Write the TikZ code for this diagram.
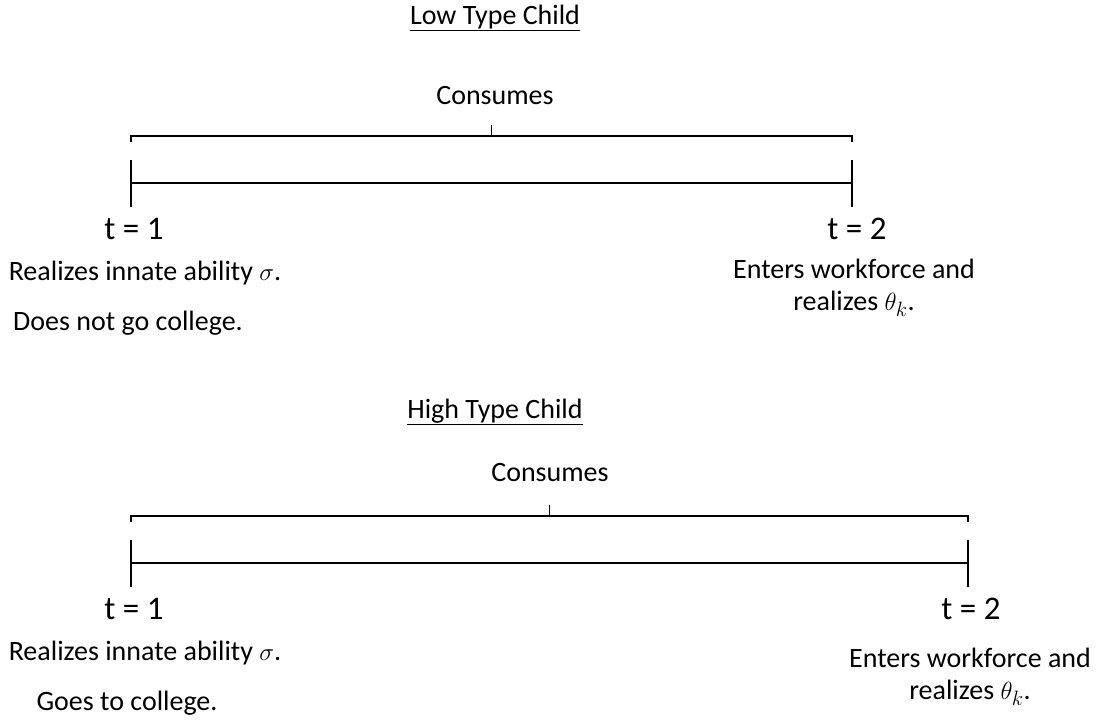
\documentclass[tikz,border=0pt]{standalone}
\usepackage{fontspec}
\setmainfont{Carlito}
\usetikzlibrary{
  calc,
  positioning,
}

\begin{document}
\begin{tikzpicture}[x=1pt,y=-1pt,
  font=\fontsize{28}{32}\selectfont,
  line width=1.2pt,
  txt/.style={inner sep=0pt,outer sep=0pt},
  time/.style={inner sep=0pt,outer sep=0pt,font=\fontsize{33}{38}\selectfont},
  note/.style={inner sep=0pt,outer sep=0pt,align=center}]
  \useasboundingbox (0,0) rectangle (1106,724);
  %% low type child
  \node[txt](Ltitle) at (495,18) {\underline{Low Type Child}};
  \node[txt](Lcons) at (495,96) {Consumes};
  \coordinate(LA) at (131,183);
  \coordinate(LB) at (852,183);
  \draw (LA) -- (LB);
  \draw ($(LA)+(0,-23)$) -- ($(LA)+(0,24)$);
  \draw ($(LB)+(0,-23)$) -- ($(LB)+(0,24)$);
  \draw ($(LA)+(0,-41)$) -- ($(LA)+(0,-47)$)
    -- ($(LB)+(0,-47)$) -- ($(LB)+(0,-41)$);
  \draw ($(LA)!.5!(LB)+(0,-47)$) -- ++(0,-11);
  \node[time](Lt1) at (134,229) {t = 1};
  \node[time](Lt2) at (857,229) {t = 2};
  \node[txt](Lreal) at (145,273) {Realizes innate ability $\sigma$.};
  \node[txt](Lcoll) at (128,323) {Does not go college.};
  \node[note](Lwork) at (854,288) {Enters workforce and\\realizes $\theta_k$.};
  %% high type child
  \node[txt](Htitle) at (495,412) {\underline{High Type Child}};
  \node[txt](Hcons) at (550,473) {Consumes};
  \coordinate(HA) at (131,563);
  \coordinate(HB) at (968,563);
  \draw (HA) -- (HB);
  \draw ($(HA)+(0,-23)$) -- ($(HA)+(0,24)$);
  \draw ($(HB)+(0,-23)$) -- ($(HB)+(0,24)$);
  \draw ($(HA)+(0,-41)$) -- ($(HA)+(0,-47)$)
    -- ($(HB)+(0,-47)$) -- ($(HB)+(0,-41)$);
  \draw ($(HA)!.5!(HB)+(0,-47)$) -- ++(0,-11);
  \node[time](Ht1) at (134,609) {t = 1};
  \node[time](Ht2) at (971,609) {t = 2};
  \node[txt](Hreal) at (145,653) {Realizes innate ability $\sigma$.};
  \node[txt](Hcoll) at (127,703) {Goes to college.};
  \node[note](Hwork) at (970,677) {Enters workforce and\\realizes $\theta_k$.};
\end{tikzpicture}
\end{document}
